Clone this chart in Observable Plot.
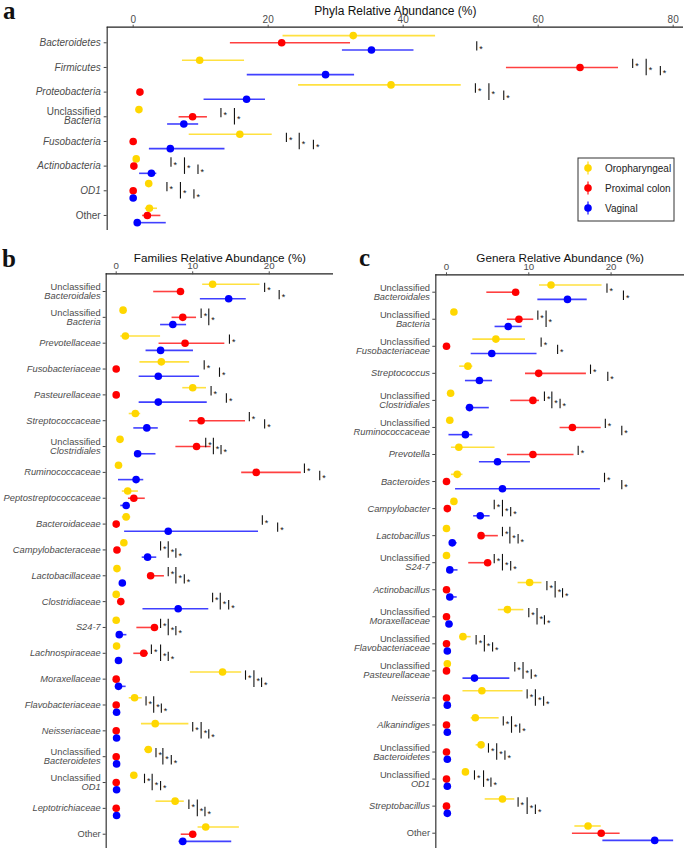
<!DOCTYPE html>
<html><head><meta charset="utf-8">
<script src="https://cdn.jsdelivr.net/npm/d3@7"></script>
<script src="https://cdn.jsdelivr.net/npm/@observablehq/plot@0.6"></script>
<style>
body{margin:0;background:#fff;}
#wrap{position:relative;width:685px;height:850px;overflow:hidden;font-family:"Liberation Sans",Arial,sans-serif;background:#fff;}
#wrap > *{position:absolute;}
</style></head><body><div id="wrap"></div>
<script>
const groups = ["Oropharyngeal", "Proximal colon", "Vaginal"];
const groupColors = ["#FFD700", "#FF0000", "#0000FF"];

// ---- Panel a: phyla. Each entry: [mean, low, high] (single value = no interval)
const phyla = ["Bacteroidetes", "Firmicutes", "Proteobacteria", "Unclassified Bacteria", "Fusobacteria", "Actinobacteria", "OD1", "Other"];
const phylaOro = [[32.6, 22.2, 44.8], [9.85, 7.3, 16.5], [38.2, 24.5, 48.6], [0.85], [15.8, 8.3, 20.6], [0.45], [2.3], [2.4, 1.8, 3.6]];
const phylaCol = [[22.0, 14.4, 32.2], [66.2, 55.3, 71.9], [1.0], [8.8, 6.8, 11.0], [0], [0.1], [0], [2.1, 1.4, 4.1]];
const phylaVag = [[35.3, 31.0, 41.6], [28.5, 16.9, 32.8], [16.8, 10.5, 19.6], [7.5, 5.1, 9.7], [5.5, 2.4, 13.6], [2.7, 0.95, 3.5], [0], [0.6, 0.2, 4.9]];
// significance bar positions: [Oro-Colon, Oro-Vaginal, Colon-Vaginal]
const phylaSig = [[null, null, 50.9], [74.0, 76.0, 78.1], [50.7, 52.7, 54.9], [13.0, 15.0, null], [22.7, 24.6, 26.7], [5.6, 7.6, 9.6], [5.0, 7.0, 9.0], [null, null, null]];
const phylaTicks = [0, 20, 40, 60, 80];

// ---- Panel b: families
const families = ["Unclassified Bacteroidales", "Unclassified Bacteria", "Prevotellaceae", "Fusobacteriaceae", "Pasteurellaceae", "Streptococcaceae", "Unclassified Clostridiales", "Ruminococcaceae", "Peptostreptococcaceae", "Bacteroidaceae", "Campylobacteraceae", "Lactobacillaceae", "Clostridiaceae", "S24-7", "Lachnospiraceae", "Moraxellaceae", "Flavobacteriaceae", "Neisseriaceae", "Unclassified Bacteroidetes", "Unclassified OD1", "Leptotrichiaceae", "Other"];
const famOro = [[12.6, 11.3, 18.8], [0.9], [1.2, 0.6, 5.8], [5.9, 3.1, 9.6], [10.0, 8.7, 11.8], [2.5, 1.7, 3.2], [0.5], [0.3], [1.5, 0.8, 2.9], [1.3, 0.8, 1.9], [1.0], [0.1], [0.0], [0.0], [0.05], [13.9, 9.7, 16.4], [2.4, 1.7, 3.4], [5.1, 3.3, 9.5], [4.2, 3.7, 4.5], [2.3], [7.7, 5.2, 8.9], [11.7, 10.7, 16.1]];
const famCol = [[8.4, 4.9, 8.8], [8.7, 7.3, 10.5], [9.0, 5.6, 14.2], [0], [0], [11.1, 9.6, 16.9], [10.5, 7.8, 12.4], [18.3, 16.4, 24.2], [2.3, 1.6, 3.8], [0], [0.1], [4.5, 4.2, 6.3], [0.6], [5.0, 2.7, 5.3], [3.6, 2.3, 4.2], [0], [0], [0], [0], [0], [0], [10.0, 8.5, 10.1]];
const famVag = [[14.7, 11.0, 17.0], [7.4, 5.8, 9.2], [5.8, 3.9, 10.1], [5.5, 3.0, 10.9], [5.5, 3.0, 11.9], [4.0, 2.3, 5.5], [2.8, 2.4, 5.2], [2.6, 0.3, 3.6], [1.3, 0.6, 1.7], [6.8, 1.1, 18.6], [4.1, 3.4, 5.3], [0.8, 0.6, 1.3], [8.1, 3.5, 12.1], [0.4, 0.1, 1.4], [0.3], [0.3, 0.0, 1.3], [0.05], [0.05], [0.05], [0.05], [0.05], [8.7, 8.2, 15.1]];
const famSig = [[19.4, null, 21.3], [11.1, 12.1, null], [14.8, null, null], [11.5, null, 13.5], [12.4, null, 14.4], [17.4, null, 19.4], [11.7, 12.7, 13.7], [24.6, null, 26.6], [null, null, null], [19.1, null, 21.1], [5.8, 6.8, 7.8], [6.8, 7.8, 8.9], [12.6, 13.6, 14.7], [5.8, 6.8, 7.8], [4.6, 5.8, 6.8], [16.9, 18.0, 19.0], [3.9, 4.9, 5.9], [10.0, 11.1, 12.1], [5.2, 6.1, 7.2], [3.7, 4.7, 5.8], [9.5, 10.6, 11.6], [null, null, null]];
const famTicks = [0, 10, 20];

// ---- Panel c: genera
const genera = ["Unclassified Bacteroidales", "Unclassified Bacteria", "Unclassified Fusobacteriaceae", "Streptococcus", "Unclassified Clostridiales", "Unclassified Ruminococcaceae", "Prevotella", "Bacteroides", "Campylobacter", "Lactobacillus", "Unclassified S24-7", "Actinobacillus", "Unclassified Moraxellaceae", "Unclassified Flavobacteriaceae", "Unclassified Pasteurellaceae", "Neisseria", "Alkanindiges", "Unclassified Bacteroidetes", "Unclassified OD1", "Streptobacillus", "Other"];
const genOro = [[12.7, 11.3, 18.9], [0.9], [6.0, 3.2, 9.6], [2.6, 1.6, 3.2], [0.5], [0.4], [1.5, 0.6, 5.9], [1.3, 0.6, 2.0], [0.9], [0.0], [0.0], [10.1, 8.7, 11.6], [7.4, 6.3, 9.4], [2.0, 1.6, 3.0], [0.1], [4.3, 2.0, 9.3], [3.5, 3.0, 6.4], [4.2, 3.6, 4.5], [2.3, 2.0, 2.8], [6.8, 4.7, 8.3], [17.2, 15.6, 18.8]];
const genCol = [[8.4, 4.9, 8.7], [8.8, 7.4, 10.6], [0], [11.2, 9.6, 17.0], [10.5, 7.8, 11.3], [15.3, 13.8, 18.8], [10.5, 7.4, 15.5], [0], [0.1], [4.2, 3.9, 6.3], [5.0, 2.7, 5.1], [0], [0], [0], [0], [0], [0], [0], [0], [0], [18.8, 15.3, 21.1]];
const genVag = [[14.7, 11.1, 17.1], [7.5, 5.9, 9.2], [5.5, 3.0, 11.0], [4.0, 2.3, 5.6], [2.8, 2.4, 5.2], [2.3, 0.3, 3.2], [6.2, 4.0, 10.2], [6.8, 1.1, 18.7], [4.1, 3.3, 5.3], [0.7, 0.4, 1.3], [0.4, 0.1, 1.4], [0.4, 0.1, 1.3], [0.3, 0.1, 0.8], [0.1], [3.4, 2.0, 7.7], [0.1], [0.1], [0.1], [0.1], [0.1], [25.3, 19.0, 27.6]];
const genSig = [[19.5, null, 21.5], [11.1, 12.1, null], [11.5, null, 13.5], [17.5, null, 19.6], [11.9, 12.8, 13.8], [19.3, null, 21.3], [16.0, null, null], [19.2, null, 21.3], [5.8, 6.8, 7.8], [6.8, 7.7, 8.7], [5.8, 6.8, 7.8], [12.2, 13.2, 14.1], [10.0, 11.0, 11.9], [3.6, 4.6, 5.6], [8.3, 9.3, 10.3], [9.8, 10.8, 11.8], [6.9, 7.9, 8.9], [5.1, 6.1, 7.1], [3.4, 4.5, 5.4], [8.7, 9.8, 10.8], [null, null, null]];
const genTicks = [0, 10, 20];

function panel(cfg) {
  const {cats, series, sig, width, height, mt, mb, ml, mr, xDomain, yDomain, ticks, title,
         labelSize, tickFont, titleSize, titleOff, labelDx} = cfg;
  const pxRow = (height - mt - mb) / (yDomain[1] - yDomain[0]);
  const off = 7.2 / pxRow;
  const offs = [-off, 0, off];
  const pts = [];
  series.forEach((s, g) => s.forEach((v, i) => pts.push({
    group: groups[g], row: i + offs[g], mean: v[0],
    lo: v.length > 1 ? v[1] : v[0], hi: v.length > 1 ? v[2] : v[0]
  })));
  const pairs = [[-off, 0], [-off, off], [0, off]];
  const sigs = [];
  sig.forEach((s, i) => s.forEach((x, k) => {
    if (x != null) sigs.push({x, y1: i + pairs[k][0] - 0.15 * off, y2: i + pairs[k][1] + 0.15 * off});
  }));
  const labs = cats.map((c, i) => ({i, c}));
  const italicSingle = labs.filter(d => !d.c.startsWith("Unclassified ") && d.c !== "Other");
  const plainSingle = labs.filter(d => d.c === "Other");
  const multi = labs.filter(d => d.c.startsWith("Unclassified "));
  const lineGap = 4.5;
  const labelOpts = {frameAnchor: "left", dx: labelDx, textAnchor: "end", fontSize: labelSize, fill: "#4d4d4d"};
  return Plot.plot({
    width, height, marginTop: mt, marginBottom: mb, marginLeft: ml, marginRight: mr,
    x: {domain: xDomain, range: [ml, width - mr]},
    y: {domain: yDomain, range: [mt, height - mb]},
    color: {domain: groups, range: groupColors},
    style: {fontFamily: "'Liberation Sans', Arial, sans-serif", fontSize: "10px", background: "transparent", overflow: "visible"},
    marks: [
      Plot.ruleY(pts.filter(d => d.hi > d.lo), {y: "row", x1: "lo", x2: "hi", stroke: "group", strokeWidth: 1.6, strokeOpacity: 0.75}),
      Plot.dot(pts, {x: "mean", y: "row", fill: "group", r: 3.8}),
      Plot.ruleX(sigs, {x: "x", y1: "y1", y2: "y2", stroke: "#111", strokeWidth: 1.1}),
      Plot.text(sigs, {x: "x", y: d => (d.y1 + d.y2) / 2, text: () => "*", dx: 2.5, dy: 2.4, textAnchor: "start", fontSize: 9, fill: "#111"}),
      Plot.ruleX([xDomain[0]], {stroke: "#444", strokeWidth: 1.3}),
      Plot.ruleY([yDomain[0]], {stroke: "#222", strokeWidth: 1.3}),
      Plot.axisX({anchor: "top", ticks, tickSize: 3, tickPadding: 1.5, fontSize: tickFont, color: "#4d4d4d", label: null}),
      Plot.axisY({ticks: d3.range(cats.length), tickSize: 3, tickFormat: () => "", color: "#444", label: null}),
      Plot.text(italicSingle, {y: "i", text: "c", fontStyle: "italic", ...labelOpts}),
      Plot.text(plainSingle, {y: "i", text: "c", ...labelOpts}),
      Plot.text(multi, {y: "i", text: () => "Unclassified", dy: -lineGap, ...labelOpts}),
      Plot.text(multi, {y: "i", text: d => d.c.replace("Unclassified ", ""), dy: lineGap, fontStyle: "italic", ...labelOpts}),
      Plot.text([title], {text: d => d, frameAnchor: "top", dy: -titleOff, fontSize: titleSize, fill: "#111"})
    ]
  });
}

const wrap = d3.select("#wrap");

const pa = panel({cats: phyla, series: [phylaOro, phylaCol, phylaVag], sig: phylaSig,
  width: 685, height: 235, mt: 26.7, mb: 5, ml: 106.7, mr: 2,
  xDomain: [-3.85, 81.53], yDomain: [-0.632, 7.61], ticks: phylaTicks,
  title: "Phyla Relative Abundance (%)", labelSize: 10, tickFont: 10, titleSize: 12, titleOff: 20.7, labelDx: -6.5});
const pb = panel({cats: families, series: [famOro, famCol, famVag], sig: famSig,
  width: 340, height: 610, mt: 33.3, mb: 2, ml: 105.7, mr: 7,
  xDomain: [-1.307, 28.4], yDomain: [-0.685, 21.553], ticks: famTicks,
  title: "Families Relative Abundance (%)", labelSize: 9.3, tickFont: 9.7, titleSize: 11.7, titleOff: 19.8, labelDx: -5.5});
const pc = panel({cats: genera, series: [genOro, genCol, genVag], sig: genSig,
  width: 345, height: 610, mt: 34.3, mb: 2, ml: 95.3, mr: 1,
  xDomain: [-1.30, 28.92], yDomain: [-0.643, 20.566], ticks: genTicks,
  title: "Genera Relative Abundance (%)", labelSize: 9.3, tickFont: 9.7, titleSize: 11.7, titleOff: 20.8, labelDx: -5.8});

const place = (node, left, top) => { node.style.position = "absolute"; node.style.left = left + "px"; node.style.top = top + "px"; wrap.node().appendChild(node); };
place(pa, 0, 0);
place(pb, 0, 240);
place(pc, 340, 240);

// Legend (panel a)
const leg = wrap.append("svg").attr("width", 98).attr("height", 65)
  .style("left", "577px").style("top", "157px");
leg.append("rect").attr("x", 1).attr("y", 1).attr("width", 96).attr("height", 63)
  .attr("fill", "white").attr("stroke", "#333").attr("stroke-width", 1);
groups.forEach((g, i) => {
  const gy = 11 + i * 20;
  const e = leg.append("g").attr("transform", `translate(11,${gy})`);
  e.append("line").attr("y1", -6.5).attr("y2", 6.5).attr("stroke", groupColors[i]).attr("stroke-width", 1.4).attr("stroke-opacity", 0.8);
  e.append("circle").attr("r", 3.8).attr("fill", groupColors[i]);
  leg.append("text").attr("x", 28).attr("y", gy).attr("dy", "0.35em")
    .attr("font-size", 10).attr("fill", "#222").attr("font-family", "'Liberation Sans', Arial, sans-serif").text(g);
});

// Panel letters
const letters = wrap.append("svg").attr("width", 685).attr("height", 850)
  .style("left", "0px").style("top", "0px").style("pointer-events", "none");
[["a", 3, 18.5], ["b", 2, 266.5], ["c", 359, 265.5]].forEach(([t, x, y]) => {
  letters.append("text").attr("x", x).attr("y", y).text(t)
    .attr("font-family", "'Liberation Serif', 'DejaVu Serif', serif").attr("font-weight", "bold").attr("font-size", 25).attr("fill", "#111");
});
</script></body></html>
